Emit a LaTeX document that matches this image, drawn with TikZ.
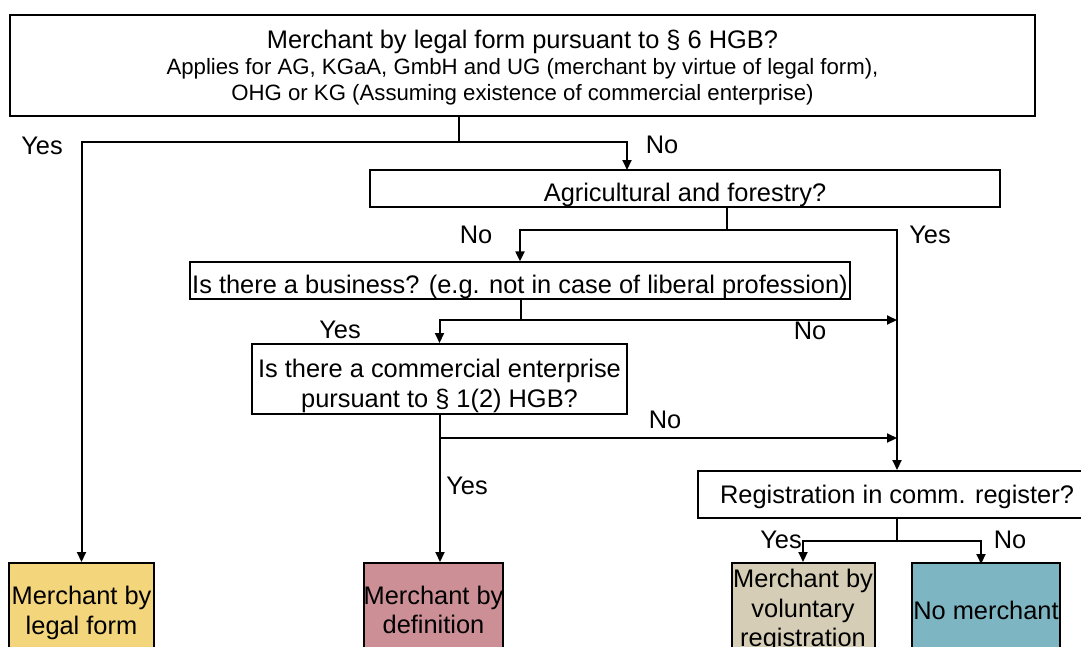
\documentclass[tikz,border=0pt]{standalone}
\usepackage{fontspec}
\setmainfont{Liberation Sans}
\usetikzlibrary{arrows.meta,positioning,calc}
\definecolor{formyellow}{RGB}{243,213,124}
\definecolor{defpink}{RGB}{204,143,150}
\definecolor{regbeige}{RGB}{213,205,181}
\definecolor{noteal}{RGB}{125,182,194}
\newcommand{\headfont}{\fontsize{25.4}{29.5}\selectfont}
\newcommand{\padtop}[1]{\rule{0pt}{#1}}

\begin{document}
\begin{tikzpicture}[x=1pt, y=-1pt,
    box/.style={rectangle, draw, line width=2pt, inner sep=0pt, align=center, font=\headfont},
    drop/.style={execute at begin node={\padtop{#1}}},
    result/.style={box, minimum height=94},
    answer/.style={inner sep=0pt, font=\headfont},
    link/.style={line width=2pt},
    arrow/.style={-{Triangle[length=10pt,width=9pt]}, line width=2pt}
]
    \clip (0,0) rectangle (1081,646);

    \node[box, font=\fontsize{22.2}{26}\selectfont, minimum width=1025, minimum height=101] (legalq) at (522.5,65.5)
        {{\headfont\padtop{22pt}Merchant by legal form pursuant to § 6 HGB?}\\[0pt]
        Applies for AG, KGaA, GmbH and UG (merchant by virtue of legal form),\\
        OHG or KG (Assuming existence of commercial enterprise)};
    \node[box, drop=31pt, minimum width=630, minimum height=37] (agri) at (685,188.5) {Agricultural and forestry?};
    \node[box, drop=31pt, minimum width=660, minimum height=35] (business) at (520,280.5) {Is there a business? (e.g. not in case of liberal profession)};
    \node[box, minimum width=375, minimum height=70] (commercial) at (439.5,379) {\padtop{32.5pt}Is there a commercial enterprise\\pursuant to § 1(2) HGB?};
    \node[box, drop=23pt, minimum width=398, minimum height=47] (register) at (897,494.5) {Registration in comm. register?};

    \node[result, fill=formyellow, minimum width=145] (byform) at (81.5,610) {\padtop{24.5pt}Merchant by\\legal form};
    \node[result, fill=defpink, minimum width=133] (bydef) at (433.5,610) {Merchant by\\definition};
    \node[result, fill=regbeige, minimum width=143] (byreg) at (803,610) {\padtop{20pt}Merchant by\\voluntary\\registration};
    \node[result, fill=noteal, minimum width=148] (nomerchant) at (986,610) {No merchant};

    \coordinate (split1) at (459,142);
    \coordinate (noagri) at (627,170);
    \draw[link] (legalq.south -| split1) -- (split1);
    \draw[arrow] (split1) -| (byform.north);
    \draw[arrow] (split1) -| (noagri);

    \coordinate (split2) at (727,230);
    \draw[link] (agri.south -| split2) -- (split2);
    \draw[arrow] (split2) -| (business.north);
    \draw[arrow] (split2) -| (register.north);

    \coordinate (split3) at (521,320);
    \draw[link] (business.south -| split3) -- (split3);
    \draw[arrow] (split3) -| (commercial.north);
    \draw[arrow] (split3) -- (split3 -| register.north);

    \coordinate (split4) at (440,438);
    \draw[arrow] (commercial.south -| split4) -- (split4 |- bydef.north);
    \draw[arrow] (split4) -- (split4 -| register.north);

    \coordinate (split5) at (897,541);
    \coordinate (nonreg) at (981,564);
    \draw[link] (register.south) -- (split5);
    \draw[arrow] (split5) -| (byreg.north);
    \draw[arrow] (split5) -| (nonreg);

    \node[answer] (yesform) at (42,146) {Yes};
    \node[answer] (noform) at (662,145) {No};
    \node[answer] (noagrilabel) at (476,235) {No};
    \node[answer] (yesagri) at (930,235) {Yes};
    \node[answer] (yesbusiness) at (340,330) {Yes};
    \node[answer] (nobusiness) at (810,331) {No};
    \node[answer] (nocommercial) at (665,420) {No};
    \node[answer] (yescommercial) at (467,486) {Yes};
    \node[answer] (yesregister) at (781,540) {Yes};
    \node[answer] (noregister) at (1010,540) {No};
\end{tikzpicture}
\end{document}
